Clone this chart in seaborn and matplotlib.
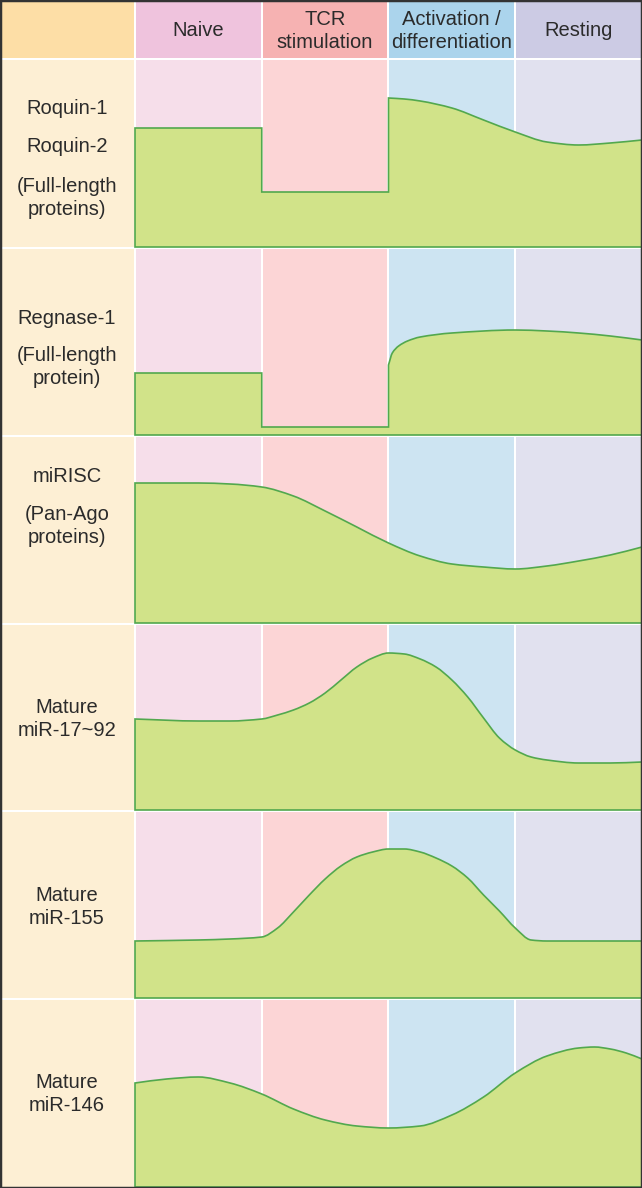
"""Timeline panel: regulator levels across T cell stages."""

import matplotlib.pyplot as plt
import numpy as np
import seaborn as sns
from matplotlib.patches import PathPatch, Rectangle
from matplotlib.path import Path

# ---- data ----------------------------------------------------------------
STAGES = ["Naive", "TCR\nstimulation", "Activation /\ndifferentiation", "Resting"]

ROW_LABELS = [
    ["Roquin-1", "Roquin-2", "(Full-length\nproteins)"],
    ["Regnase-1", "(Full-length\nprotein)"],
    ["miRISC", "(Pan-Ago\nproteins)"],
    ["Mature\nmiR-17~92"],
    ["Mature\nmiR-155"],
    ["Mature\nmiR-146"],
]

# x in stage units (0..4), y in level units above the row baseline
ROQUIN_X = [0, 1, 1, 2, 2, 2.125, 2.25, 2.5, 2.75, 3.0, 3.25, 3.5, 3.75, 4.0]
ROQUIN_Y = [119, 119, 55, 55, 149, 148, 146, 139, 127, 115, 105, 102, 104, 107]

REGNASE_X = [0, 1, 1, 2, 2, 2.03, 2.08, 2.15, 2.25, 2.5, 3.0, 3.25, 3.5, 3.75, 4.0]
REGNASE_Y = [62, 62, 8, 8, 70, 82, 89, 94, 98, 102, 105, 104, 102, 99, 95]

MIRISC_X = [0, 0.25, 0.5, 0.75, 1.0, 1.25, 1.5, 1.75, 2.0, 2.25, 2.5, 2.75,
            3.0, 3.25, 3.5, 3.75, 4.0]
MIRISC_Y = [140, 140, 140, 139, 136, 127, 112, 96, 80, 67, 59, 56,
            54, 57, 62, 68, 76]

MIR17_X = [0, 0.5, 0.75, 1.0, 1.125, 1.25, 1.375, 1.5, 1.625, 1.75, 1.875,
           2.0, 2.125, 2.25, 2.375, 2.5, 2.625, 2.75, 2.875, 3.0, 3.125,
           3.25, 3.5, 3.75, 4.0]
MIR17_Y = [91, 89, 89, 91, 95, 100, 107, 117, 130, 143, 152,
           157, 156, 151, 143, 130, 113, 92, 72, 60, 53,
           50, 47, 47, 48]

MIR155_X = [0, 0.5, 0.75, 1.0, 1.125, 1.25, 1.375, 1.5, 1.625, 1.75, 1.875,
            2.0, 2.125, 2.25, 2.375, 2.5, 2.625, 2.75, 2.875, 3.0, 3.125,
            3.25, 3.5, 3.75, 4.0]
MIR155_Y = [57, 58, 59, 61, 70, 86, 103, 119, 132, 141, 146,
            149, 149, 146, 140, 132, 120, 103, 87, 70, 58,
            57, 57, 57, 57]

MIR146_X = [0, 0.25, 0.5, 0.75, 1.0, 1.25, 1.5, 1.75, 2.0, 2.25, 2.5, 2.75,
            3.0, 3.25, 3.5, 3.625, 3.75, 3.875, 4.0]
MIR146_Y = [104, 108, 110, 104, 93, 78, 67, 61, 59, 61, 72, 90,
            114, 131, 139, 140, 138, 134, 128]

CURVES = [
    (ROQUIN_X, ROQUIN_Y),
    (REGNASE_X, REGNASE_Y),
    (MIRISC_X, MIRISC_Y),
    (MIR17_X, MIR17_Y),
    (MIR155_X, MIR155_Y),
    (MIR146_X, MIR146_Y),
]

# ---- layout / style ------------------------------------------------------
W, H = 642, 1188
COL_EDGES = [0, 135, 261.5, 388, 515, 642]
ROW_EDGES = [0, 59, 248, 436, 624, 811, 999, 1188]

HEAD_COLORS = ["#FDDEA6", "#EFC3DD", "#F6B2B2", "#ABD4EC", "#CCCBE4"]
BODY_COLORS = ["#FDEFD4", "#F6DEEA", "#FCD5D6", "#CDE4F2", "#E1E1EF"]
FILL = "#D1E389"
EDGE = "#52A84E"
TEXT = "#2b2b2b"


def smooth_path(xs, ys):
    """Area outline through the points: smooth (monotone cubic) where x
    advances, straight where x repeats (steps), closed down to baseline."""
    x = np.asarray(xs, float)
    y = np.asarray(ys, float)
    n = len(x)
    slopes = np.zeros(n)
    for i in range(n):
        left = i > 0 and x[i - 1] != x[i]
        right = i < n - 1 and x[i + 1] != x[i]
        dl = (y[i] - y[i - 1]) / (x[i] - x[i - 1]) if left else None
        dr = (y[i + 1] - y[i]) / (x[i + 1] - x[i]) if right else None
        if dl is not None and dr is not None:
            slopes[i] = 0 if dl * dr <= 0 else 2 / (1 / dl + 1 / dr)
        elif dl is not None:
            slopes[i] = dl
        elif dr is not None:
            slopes[i] = dr
    verts = [(x[0], 0), (x[0], y[0])]
    codes = [Path.MOVETO, Path.LINETO]
    for i in range(n - 1):
        dx = x[i + 1] - x[i]
        if dx == 0:
            verts.append((x[i + 1], y[i + 1]))
            codes.append(Path.LINETO)
            continue
        verts += [(x[i] + dx / 3, y[i] + slopes[i] * dx / 3),
                  (x[i + 1] - dx / 3, y[i + 1] - slopes[i + 1] * dx / 3),
                  (x[i + 1], y[i + 1])]
        codes += [Path.CURVE4] * 3
    verts += [(x[-1], 0), (x[0], 0)]
    codes += [Path.LINETO, Path.CLOSEPOLY]
    return Path(verts, codes)


sns.set_theme(style="white")
plt.rcParams["font.family"] = ["Liberation Sans", "DejaVu Sans"]

fig = plt.figure(figsize=(W / 100, H / 100), dpi=100, facecolor="white")

# table background in pixel coordinates
bg = fig.add_axes([0, 0, 1, 1])
bg.set_xlim(0, W)
bg.set_ylim(H, 0)
bg.axis("off")
for r in range(len(ROW_EDGES) - 1):
    colors = HEAD_COLORS if r == 0 else BODY_COLORS
    y0 = ROW_EDGES[r] + (1 if r > 0 else 0)
    y1 = ROW_EDGES[r + 1] - (1 if r < len(ROW_EDGES) - 2 else 0)
    for c in range(len(COL_EDGES) - 1):
        x0 = COL_EDGES[c] + (1 if c > 0 else 0)
        x1 = COL_EDGES[c + 1] - (1 if c < len(COL_EDGES) - 2 else 0)
        bg.add_patch(Rectangle((x0, y0), x1 - x0, y1 - y0,
                               facecolor=colors[c], edgecolor="none"))

# header labels
for c, stage in enumerate(STAGES):
    xc = (COL_EDGES[c + 1] + COL_EDGES[c + 2]) / 2
    bg.text(xc, 31, stage, ha="center", va="center", fontsize=14.5,
            color=TEXT, linespacing=1.3)

# row labels (offsets from row top, px)
LABEL_OFFSETS = [
    [50, 88, 139],
    [70, 119],
    [40, 90],
    [95],
    [96],
    [95],
]
for r, (lines, offs) in enumerate(zip(ROW_LABELS, LABEL_OFFSETS)):
    top = ROW_EDGES[r + 1]
    for txt, off in zip(lines, offs):
        bg.text(67, top + off, txt, ha="center", va="center", fontsize=14.5,
                color=TEXT, linespacing=1.3)

# curve panels
for r, (xs, ys) in enumerate(CURVES):
    top = ROW_EDGES[r + 1] + 1
    bottom = ROW_EDGES[r + 2] - 1
    h = bottom - top
    ax = fig.add_axes([COL_EDGES[1] / W, 1 - bottom / H,
                       (W - COL_EDGES[1]) / W, h / H])
    ax.patch.set_alpha(0)
    ax.set_xlim(0, 4)
    ax.set_ylim(0, h)
    ax.axis("off")
    ax.add_patch(PathPatch(smooth_path(xs, ys), facecolor=FILL,
                           edgecolor=EDGE, linewidth=1.2, clip_on=False,
                           joinstyle="miter"))

# dark outer frame
fig.patches.append(Rectangle((0, 0), 1, 1, transform=fig.transFigure,
                             fill=False, edgecolor="#333333", linewidth=2.5))

fig.savefig("out.png", dpi=100, facecolor="white")
